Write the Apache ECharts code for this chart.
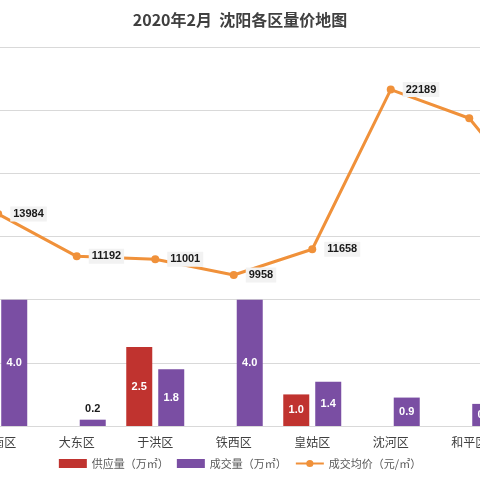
<!DOCTYPE html><html><head><meta charset="utf-8"><script src="https://cdn.jsdelivr.net/npm/echarts@6/dist/echarts.min.js"></script></head><body style="margin:0"><div id="c" style="width:480px;height:480px"></div><script>
const categories=['浑南区','大东区','于洪区','铁西区','皇姑区','沈河区','和平区','苏家屯区'];
const supply=[null,null,2.5,null,1.0,null,null,null];
const deal=[4.0,0.2,1.8,4.0,1.4,0.9,0.7,1.0];
const price=[13984,11192,11001,9958,11658,22189,20300,14000];
const ch=echarts.init(document.getElementById('c'));
const font='"Noto Sans CJK SC"';
ch.setOption({
 title:{text:'2020年2月  沈阳各区量价地图',left:'center',top:7,textStyle:{fontSize:16,fontWeight:'bold',color:'#404040',fontFamily:font}},
 legend:{bottom:6,left:'center',itemWidth:28,itemHeight:9,itemGap:8,textStyle:{fontSize:11,color:'#595959',fontFamily:font},
  data:[{name:'供应量（万㎡）',icon:'rect'},{name:'成交量（万㎡）',icon:'rect'},{name:'成交均价（元/㎡）'}]},
 grid:{left:-41,width:628,top:47,bottom:54,outerBoundsMode:'none',containLabel:false},
 xAxis:{type:'category',data:categories,axisTick:{show:false},axisLine:{lineStyle:{color:'#d9d9d9'}},axisLabel:{interval:0,color:'#404040',fontSize:12,fontFamily:font,margin:10}},
 yAxis:[{type:'value',min:0,max:12,interval:2,axisLabel:{show:false},splitLine:{lineStyle:{color:'#d9d9d9'}}},
        {type:'value',min:0,max:25000,show:false,splitLine:{show:false}}],
 series:[
  {name:'供应量（万㎡）',type:'bar',data:supply,barWidth:26,barGap:'23%',itemStyle:{color:'#c0332f'},
   label:{show:true,position:'inside',color:'#fff',fontWeight:'bold',fontSize:11,formatter:p=>p.value.toFixed(1)}},
  {name:'成交量（万㎡）',type:'bar',data:deal.map(v=>v<0.5?{value:v,label:{position:'top',color:'#1a1a1a'}}:v),barWidth:26,itemStyle:{color:'#7a4ea3'},
   label:{show:true,position:'inside',color:'#fff',fontWeight:'bold',fontSize:11,formatter:p=>p.value.toFixed(1)}},
  {name:'成交均价（元/㎡）',type:'line',yAxisIndex:1,data:price,symbol:'circle',symbolSize:8,
   lineStyle:{width:3,color:'#f0913a'},itemStyle:{color:'#f0913a'},
   label:{show:true,position:'right',distance:8,color:'#1a1a1a',fontWeight:'bold',fontSize:11,backgroundColor:'#f2f2f2',padding:[2,3]}}
 ]
});
</script></body></html>
